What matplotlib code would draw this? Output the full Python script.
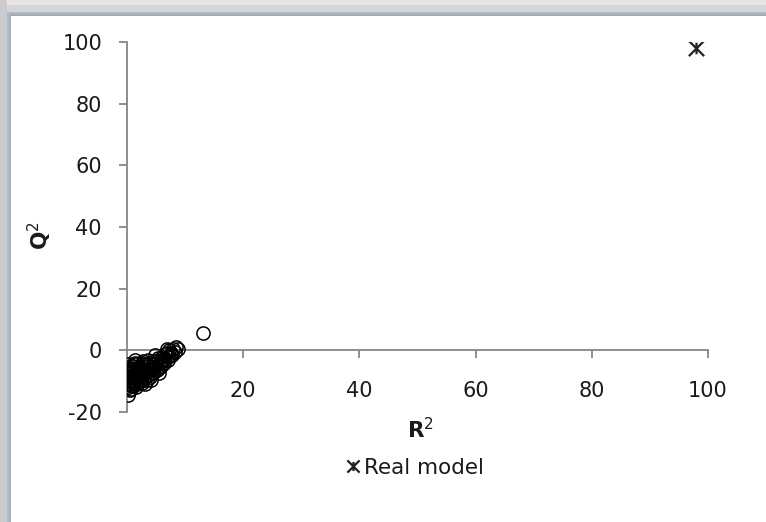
import matplotlib.pyplot as plt
import matplotlib.patches as mpatches
from matplotlib.path import Path

# permuted models (R2, Q2)
perm_r2 = [0.2, 0.3, 0.5, 0.4, 0.6, 0.3, 0.8, 1.0, 1.2, 1.5, 1.1, 0.2, 0.7,
           1.8, 2.0, 2.2, 2.5, 2.8, 3.0, 3.3, 3.5, 3.8, 4.0, 4.3, 4.6, 1.4,
           5.0, 5.3, 5.6, 6.0, 6.3, 6.6, 7.0, 7.3, 7.6, 8.0, 8.5, 8.8, 6.8,
           0.4, 0.9, 1.6, 2.4, 3.1, 3.9, 4.4, 5.2, 5.9, 2.7, 3.6, 4.8, 1.3,
           0.1, 0.6, 2.1, 4.1, 5.5, 6.2, 7.8, 0.5, 1.7, 3.4,
           0.2, 0.4, 0.6, 0.8, 1.0, 1.2, 1.4, 1.6, 1.9, 2.3, 2.6, 2.9, 3.2,
           3.7, 4.2, 4.7, 5.1, 5.7, 6.4, 7.1, 0.3, 0.7, 1.1, 1.5, 2.0, 2.5,
           3.0, 3.5, 4.5, 5.4, 6.1, 6.9, 7.5, 8.2, 0.9, 1.8, 2.8, 0.3, 13.0]
perm_q2 = [-14.5, -12.0, -11.0, -9.5, -8.0, -7.0, -6.0, -10.5, -9.0, -7.5, -5.0, -4.5, -12.5,
           -11.0, -9.5, -7.0, -8.5, -6.0, -9.0, -7.0, -5.0, -6.5, -4.0, -5.5, -3.5, -4.0,
           -4.5, -2.5, -3.8, -2.0, -3.0, -1.2, -2.0, 0.0, -0.8, 0.5, 1.0, 0.3, 0.5,
           -6.0, -8.5, -12.0, -10.0, -11.0, -8.5, -7.5, -6.5, -5.0, -3.5, -3.0, -1.5, -3.0,
           -9.0, -10.0, -5.5, -9.5, -7.5, -4.5, -1.5, -13.0, -6.5, -8.0,
           -5.5, -10.0, -6.5, -11.5, -8.0, -6.0, -10.0, -4.5, -8.0, -5.5, -10.5, -7.5, -4.5,
           -8.0, -6.5, -6.0, -3.5, -5.5, -4.0, -3.0, -8.5, -7.5, -9.5, -8.5, -6.0, -5.0,
           -7.5, -9.5, -4.5, -6.0, -3.2, -1.0, -1.5, -0.5, -11.5, -9.0, -4.0, -11.0, 5.5]

# real model
real_r2 = [98]
real_q2 = [98]

x_ticks = [20, 40, 60, 80, 100]
y_ticks = [-20, 0, 20, 40, 60, 80, 100]

W, H = 766, 522
fig = plt.figure(figsize=(W / 100, H / 100), dpi=100)
fig.patch.set_facecolor('white')


# window frame around the chart (top and left edges)
def px_rect(x0, y0, w, h, color):
    fig.patches.append(mpatches.Rectangle((x0 / W, 1 - (y0 + h) / H), w / W, h / H,
                                          transform=fig.transFigure, color=color,
                                          lw=0, zorder=0))


px_rect(0, 0, W, 13, '#d6d6d6')
px_rect(0, 0, W, 5, '#e6e6e6')
px_rect(0, 0, 7, H, '#cccccc')
px_rect(7, 12, W - 7, 2, '#a9bcd3')
px_rect(7, 12, 2, H - 12, '#a9bcd3')
px_rect(9, 14, W - 9, 1.5, '#a8a8a8')
px_rect(9, 14, 1.5, H - 14, '#b0b0b0')

ax = fig.add_axes([127 / W, 1 - 412 / H, (708 - 127) / W, (412 - 42) / H])
ax.set_facecolor('none')
ax.set_xlim(0, 100)
ax.set_ylim(-20, 100)

ax.plot(perm_r2, perm_q2, 'o', mfc='none', mec='black', ms=9.5, mew=1.1, zorder=3)

# Excel style star marker: X with a vertical bar
star = Path([(-1, -1), (1, 1), (-1, 1), (1, -1), (0, -0.75), (0, 0.75)],
            [Path.MOVETO, Path.LINETO, Path.MOVETO, Path.LINETO, Path.MOVETO, Path.LINETO])
ax.plot(real_r2, real_q2, linestyle='none', marker=star, mec='#222222', mfc='none',
        ms=11, mew=1.6, zorder=4, label='Real model')

axis_col = '#868686'
for side in ['top', 'right']:
    ax.spines[side].set_visible(False)
ax.spines['left'].set_position(('data', 0))
ax.spines['bottom'].set_position(('data', 0))
ax.spines['left'].set_color(axis_col)
ax.spines['bottom'].set_color(axis_col)
ax.spines['left'].set_linewidth(1.3)
ax.spines['bottom'].set_linewidth(1.3)

ax.set_xticks(x_ticks)
ax.set_yticks(y_ticks)
ax.set_xticklabels([str(t) for t in x_ticks])
ax.set_yticklabels([str(t) for t in y_ticks])
ax.tick_params(axis='x', direction='out', length=6, width=1.3, color=axis_col,
               labelsize=15, labelcolor='#1a1a1a', pad=16)
ax.tick_params(axis='y', direction='out', length=6, width=1.3, color=axis_col,
               labelsize=15, labelcolor='#1a1a1a', pad=12)

fig.text(420 / W, 1 - 430 / H, 'R$^{2}$', ha='center', va='center',
         fontsize=15.5, fontweight='bold', color='#1a1a1a')
fig.text(40 / W, 1 - 236 / H, 'Q$^{2}$', ha='center', va='center', rotation=90,
         fontsize=15.5, fontweight='bold', color='#1a1a1a')

leg = fig.legend(loc='center', bbox_to_anchor=(415 / W, 1 - 468 / H), frameon=False,
                 fontsize=15.5, handlelength=0.6, handletextpad=0.2, markerscale=0.8)
for t in leg.get_texts():
    t.set_color('#1a1a1a')

fig.savefig('out.png', dpi=100)
